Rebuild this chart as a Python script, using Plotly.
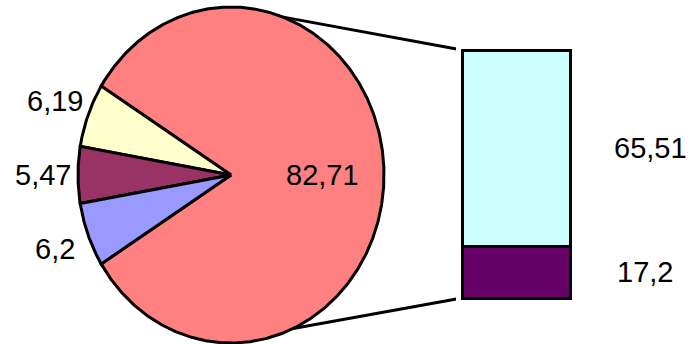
import numpy as np
import plotly.graph_objects as go

# ---- data ----
pie_labels = ["Other", "A", "B", "C"]
pie_values = [82.71, 6.19, 5.47, 6.2]
pie_colors = ["#FF8080", "#FFFFCC", "#993366", "#9999FF"]

bar_labels = ["Bottom", "Top"]
bar_values = [17.2, 65.51]
bar_colors = ["#660066", "#CCFFFF"]


def fmt(v):
    s = ("%.2f" % v).rstrip("0").rstrip(".")
    return s.replace(".", ",")


# ---- geometry (pixel space) ----
W, H = 692, 344
CX, CY, RX, RY = 231, 175, 153, 168
BAR_X0, BAR_X1, BAR_YTOP, BAR_YBOT = 462, 570, 50, 298
PAD = 6
FONT = dict(family="Liberation Sans, Arial, sans-serif", size=29, color="black")
LW = 3

fig = go.Figure()

total = sum(pie_values)
big = pie_values[0] / total * 360.0
start = -big / 2.0
angles = []
a = start
for v in pie_values:
    span = v / total * 360.0
    angles.append((a, a + span))
    a += span


def ell(theta_deg, r=1.0):
    t = np.radians(theta_deg)
    return CX + r * RX * np.cos(t), CY - r * RY * np.sin(t)


for (a0, a1), c, lab, v in zip(angles, pie_colors, pie_labels, pie_values):
    ts = np.linspace(a0, a1, max(int(abs(a1 - a0) * 2), 8))
    xs, ys = ell(ts)
    xs = np.concatenate([[CX], xs, [CX]])
    ys = np.concatenate([[CY], ys, [CY]])
    fig.add_trace(go.Scatter(x=xs, y=ys, mode="lines", fill="toself",
                             fillcolor=c, line=dict(color="black", width=LW),
                             hoverinfo="skip", showlegend=False))

# pie labels
for i, ((a0, a1), v) in enumerate(zip(angles, pie_values)):
    mid = (a0 + a1) / 2.0
    if i == 0:
        lx, ly = ell(mid, 0.6)
    else:
        lx, ly = ell(mid, 1.23)
    fig.add_annotation(x=lx, y=ly, xref="x", yref="y", text=fmt(v),
                       showarrow=False, font=FONT)

# connector lines
tx, ty = ell(70)
bx, by = ell(-66)
fig.add_trace(go.Scatter(x=[tx, BAR_X0], y=[ty, BAR_YTOP], mode="lines",
                         line=dict(color="black", width=LW), hoverinfo="skip",
                         showlegend=False))
fig.add_trace(go.Scatter(x=[bx, BAR_X0], y=[by, BAR_YBOT], mode="lines",
                         line=dict(color="black", width=LW), hoverinfo="skip",
                         showlegend=False))

# stacked bar
for lab, v, c in zip(bar_labels, bar_values, bar_colors):
    fig.add_trace(go.Bar(x=[0], y=[v], width=1,
                         marker=dict(color=c, line=dict(color="black", width=LW)),
                         xaxis="x2", yaxis="y2", showlegend=False, hoverinfo="skip",
                         text=[fmt(v)], textposition="none"))

# bar labels (to the right of the bar, centred on each segment)
cum = 0
btotal = sum(bar_values)
label_x = [645, 650]
for v, lx in zip(bar_values, label_x):
    mid = cum + v / 2.0
    cum += v
    py = BAR_YBOT - (BAR_YBOT - BAR_YTOP) * mid / btotal
    fig.add_annotation(x=lx, y=py, xref="x", yref="y", text=fmt(v),
                       showarrow=False, font=FONT)

xpad = PAD / (BAR_X1 - BAR_X0)
ypad = PAD * btotal / (BAR_YBOT - BAR_YTOP)

fig.update_layout(
    width=W, height=H, margin=dict(l=0, r=0, t=0, b=0),
    paper_bgcolor="white", plot_bgcolor="white", barmode="stack",
    xaxis=dict(range=[0, W], visible=False, fixedrange=True),
    yaxis=dict(range=[H, 0], visible=False, fixedrange=True),
    xaxis2=dict(domain=[(BAR_X0 - PAD) / W, (BAR_X1 + PAD) / W],
                range=[-0.5 - xpad, 0.5 + xpad], visible=False, anchor="y2"),
    yaxis2=dict(domain=[(H - BAR_YBOT - PAD) / H, (H - BAR_YTOP + PAD) / H],
                range=[-ypad, btotal + ypad], visible=False, anchor="x2"),
    showlegend=False,
)

fig.write_html("out.html")
